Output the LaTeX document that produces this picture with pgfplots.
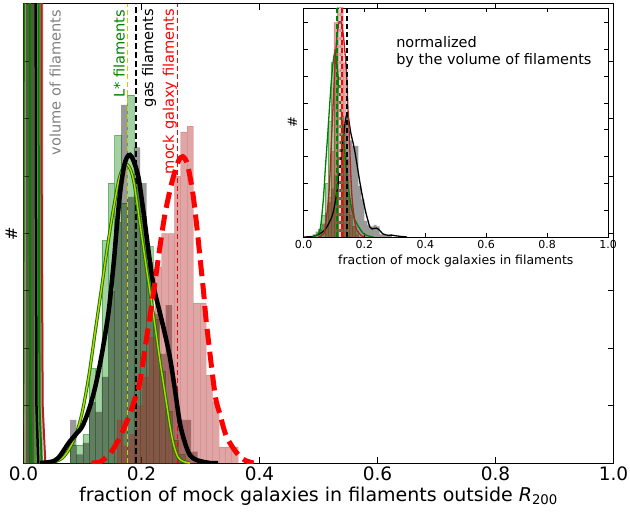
\documentclass[border=0pt]{standalone}
\usepackage{fontspec}
\setmainfont{DejaVu Sans}
\usepackage{pgfplots}
\pgfplotsset{compat=1.18}
\definecolor{mgreen}{rgb}{0,0.5,0}
\definecolor{mfire}{rgb}{0.70,0.13,0.13}
\definecolor{mgray}{rgb}{0.5,0.5,0.5}
\definecolor{myellow}{rgb}{0.80,0.80,0}
\pgfplotsset{
  hbar/.style={ybar, bar width=#1, bar shift=0pt},
  ghist/.style={hbar=#1, fill=mgreen, fill opacity=0.36, draw=mgreen, draw opacity=0.45, line width=0.6bp},
  khist/.style={hbar=#1, fill=black, fill opacity=0.40, draw=none},
  rhist/.style={hbar=#1, fill=mfire, fill opacity=0.40, draw=mfire, draw opacity=0.15, line width=0.5bp},
}
\begin{document}
\begin{tikzpicture}
\path[use as bounding box] (-23.5bp,-51bp) rectangle (606.5bp,463bp);
\begin{axis}[
  at={(0,0)}, anchor=south west,
  scale only axis, width=590bp, height=459bp,
  xmin=0, xmax=1, ymin=0, ymax=8,
  axis line style={line width=1bp},
  xtick={0,0.2,0.4,0.6,0.8,1.0},
  ytick={1,2,3,4,5,6,7}, yticklabels={},
  tick align=inside, major tick length=6bp,
  tick style={line width=1bp, black},
  xticklabel style={font=\fontsize{18.5bp}{20bp}\selectfont, /pgf/number format/.cd, fixed, fixed zerofill, precision=1, assume math mode=true},
  xlabel={fraction of mock galaxies in filaments outside \textit{R}\textsubscript{200}},
  every axis x label/.style={at={(axis description cs:0.5,0)}, yshift=-33bp, anchor=center, font=\fontsize{19bp}{21bp}\selectfont},
  ylabel={\#},
  every axis y label/.style={at={(axis description cs:0,0.5)}, xshift=-12bp, rotate=90, anchor=center, font=\fontsize{16bp}{18bp}\selectfont},
  clip=true,
]
% ---- volume of filaments (narrow spikes, off the top) ----
\addplot[rhist=0.011] coordinates {(0.0055,20) (0.0165,20) (0.0275,20)};
\addplot[ghist=0.010] coordinates {(0.005,20) (0.015,20) (0.0235,20)};
\addplot[khist=0.012] coordinates {(0.011,20)};
\addplot[mgreen, line width=2bp] coordinates {(-0.003,0) (-0.0005,1) (0.0003,5) (0.0006,9) (0.0105,9) (0.011,5) (0.0115,1) (0.014,0)};
\addplot[black, line width=2.5bp] coordinates {(0.001,9) (0.0205,9) (0.021,5) (0.022,1) (0.025,0)};
\addplot[mgreen, line width=2bp] coordinates {(0.001,9) (0.0255,9) (0.026,4) (0.027,1) (0.031,0)};
\addplot[mfire, line width=2bp] coordinates {(0.001,9) (0.0305,9) (0.031,4) (0.0325,1) (0.037,0)};
% ---- L* filaments histogram ----
\addplot[ghist=0.0108] coordinates {
(0.0844,0.31) (0.0952,0.31) (0.1060,0.50) (0.1168,1.65) (0.1276,1.65) (0.1384,3.88)
(0.1492,4.88) (0.1600,5.71) (0.1708,4.53) (0.1816,6.41) (0.1924,4.90) (0.2032,4.30)
(0.2140,3.77) (0.2248,2.50) (0.2356,1.60) (0.2464,0.90) (0.2572,0.40) (0.2680,0.15)};
% ---- gas filaments histogram ----
\addplot[khist=0.0108] coordinates {
(0.0844,0.75) (0.0952,0.15) (0.1060,0.35) (0.1168,1.06) (0.1276,0.89) (0.1384,1.50)
(0.1492,3.00) (0.1600,4.20) (0.1708,6.24) (0.1816,4.64) (0.1924,5.50) (0.2032,4.88)
(0.2140,3.50) (0.2248,2.60) (0.2356,1.90) (0.2464,2.75) (0.2572,1.30) (0.2680,0.75)
(0.2788,0.75) (0.2896,0.20)};
% ---- mock galaxy filaments histogram ----
\addplot[rhist=0.0108] coordinates {
(0.1638,0.75) (0.1746,0.30) (0.1854,0.50) (0.1962,1.00) (0.2070,1.50) (0.2178,2.20)
(0.2286,3.42) (0.2394,4.00) (0.2502,4.00) (0.2610,5.00) (0.2718,5.77) (0.2826,5.87)
(0.2934,2.79) (0.3042,2.79) (0.3150,1.53) (0.3258,1.07) (0.3366,0.28) (0.3474,0.28)
(0.3582,0.28)};
% ---- vertical dashed lines ----
\addplot[myellow, line width=1.5bp, dash pattern=on 5bp off 3bp] coordinates {(0.1766,0) (0.1766,8)};
\addplot[black, line width=1.8bp, dash pattern=on 6bp off 3bp] coordinates {(0.1907,0) (0.1907,8)};
\addplot[red, line width=1.3bp, dash pattern=on 5bp off 3bp] coordinates {(0.2607,0) (0.2607,8)};
% ---- KDE curves ----
\addplot[mgreen, line width=3.2bp, smooth] coordinates {
(0.040,0) (0.055,0.03) (0.065,0.08) (0.075,0.2) (0.0878,0.46) (0.0992,0.87) (0.1105,1.5)
(0.1217,2.3) (0.133,3.1) (0.142,3.75) (0.152,4.4) (0.162,4.95) (0.170,5.17) (0.176,5.2)
(0.182,5.1) (0.188,4.85) (0.197,4.2) (0.209,3.35) (0.22,2.6) (0.231,1.8) (0.237,1.4)
(0.243,1.0) (0.249,0.6) (0.255,0.3) (0.262,0.1) (0.27,0.03) (0.282,0)};
\addplot[myellow, line width=1.4bp, smooth] coordinates {
(0.040,0) (0.055,0.03) (0.065,0.08) (0.075,0.2) (0.0878,0.46) (0.0992,0.87) (0.1105,1.5)
(0.1217,2.3) (0.133,3.1) (0.142,3.75) (0.152,4.4) (0.162,4.95) (0.170,5.17) (0.176,5.2)
(0.182,5.1) (0.188,4.85) (0.197,4.2) (0.209,3.35) (0.22,2.6) (0.231,1.8) (0.237,1.4)
(0.243,1.0) (0.249,0.6) (0.255,0.3) (0.262,0.1) (0.27,0.03) (0.282,0)};
\addplot[black, line width=4.5bp, smooth] coordinates {
(0.028,0) (0.040,0.01) (0.050,0.03) (0.058,0.08) (0.065,0.17) (0.0766,0.35) (0.0878,0.49)
(0.0992,0.63) (0.1105,0.92) (0.1217,1.33) (0.133,1.91) (0.1444,2.65) (0.153,3.5) (0.158,4.1)
(0.1636,4.7) (0.170,5.15) (0.1755,5.33) (0.1805,5.37) (0.186,5.28) (0.1946,4.99) (0.203,4.4)
(0.2144,3.5) (0.222,3.0) (0.2258,2.84) (0.237,2.37) (0.248,1.85) (0.2568,1.27) (0.265,0.7)
(0.2737,0.35) (0.282,0.14) (0.2936,0.05) (0.316,0) (0.33,0)};
\addplot[red, line width=5bp, dash pattern=on 16bp off 7bp, smooth] coordinates {
(0.115,0) (0.13,0.02) (0.147,0.17) (0.164,0.46) (0.18,0.85) (0.19,1.15) (0.197,1.4)
(0.209,2.2) (0.22,2.95) (0.231,3.75) (0.24,4.35) (0.251,4.87) (0.262,5.25) (0.270,5.34)
(0.278,5.2) (0.287,4.7) (0.294,4.1) (0.299,3.6) (0.305,3.0) (0.3105,2.4) (0.3246,1.2)
(0.333,0.85) (0.344,0.46) (0.361,0.18) (0.375,0.05) (0.39,0)};
% ---- rotated labels ----
\node[rotate=90, anchor=east, inner sep=0pt, text=mgray, font=\fontsize{14.6bp}{16bp}\selectfont] at (axis cs:0.0535,7.9) {volume of filaments};
\node[rotate=90, anchor=east, inner sep=0pt, text=mgreen, font=\fontsize{14.6bp}{16bp}\selectfont] at (axis cs:0.162,7.9) {L* filaments};
\node[rotate=90, anchor=east, inner sep=0pt, text=black, font=\fontsize{14.6bp}{16bp}\selectfont] at (axis cs:0.213,7.92) {gas filaments};
\node[rotate=90, anchor=east, inner sep=0pt, text=red, font=\fontsize{14.6bp}{16bp}\selectfont] at (axis cs:0.248,7.92) {mock galaxy filaments};
\end{axis}

% ================= inset =================
\begin{axis}[
  at={(280bp,226bp)}, anchor=south west,
  scale only axis, width=304.5bp, height=229bp,
  xmin=0, xmax=1, ymin=0, ymax=8.54,
  axis background/.style={fill=white},
  axis line style={line width=0.8bp},
  xtick={0,0.2,0.4,0.6,0.8,1.0},
  ytick={1,2,3,4,5,6,7,8}, yticklabels={},
  tick align=inside, major tick length=4bp,
  tick style={line width=0.8bp, black},
  xticklabel style={font=\fontsize{11bp}{12bp}\selectfont, /pgf/number format/.cd, fixed, fixed zerofill, precision=1, assume math mode=true},
  xlabel={fraction of mock galaxies in filaments},
  every axis x label/.style={at={(axis description cs:0.5,0)}, yshift=-24bp, anchor=center, font=\fontsize{12.5bp}{14bp}\selectfont},
  ylabel={\#},
  every axis y label/.style={at={(axis description cs:0,0.5)}, xshift=-11bp, rotate=90, anchor=center, font=\fontsize{13bp}{15bp}\selectfont},
  clip=true,
]
\addplot[khist=0.01] coordinates {
(0.035,0.1) (0.045,0.2) (0.055,0.3) (0.065,0.5) (0.075,0.9) (0.085,1.3) (0.095,1.8) (0.105,2.3)
(0.115,3.0) (0.125,3.8) (0.135,4.2) (0.145,4.6) (0.155,3.6) (0.165,3.4) (0.175,3.4) (0.185,1.9)
(0.195,1.4) (0.205,0.6) (0.215,0.45) (0.225,0.4) (0.235,0.45) (0.245,0.4) (0.255,0.1) (0.265,0.1)
(0.275,0.05) (0.285,0.1)};
\addplot[ghist=0.01] coordinates {
(0.055,0.3) (0.065,0.8) (0.075,2.0) (0.085,4.3) (0.095,6.5) (0.105,7.0) (0.115,6.0) (0.125,4.5)
(0.135,3.0) (0.145,1.6) (0.155,0.8) (0.165,0.4) (0.175,0.2)};
\addplot[rhist=0.01] coordinates {
(0.075,0.5) (0.085,1.5) (0.095,3.2) (0.105,8.0) (0.115,9.5) (0.125,9.0) (0.135,6.5) (0.145,2.9)
(0.155,1.2) (0.165,0.4) (0.175,0.1)};
\addplot[black, line width=1.3bp, smooth] coordinates {
(0.0,0) (0.03,0.02) (0.05,0.1) (0.07,0.26) (0.085,0.55) (0.097,0.9) (0.11,1.7) (0.12,2.6)
(0.13,3.6) (0.137,4.3) (0.142,4.55) (0.148,4.4) (0.155,3.9) (0.163,3.5) (0.17,3.1) (0.18,2.4)
(0.188,1.85) (0.196,1.38) (0.205,0.9) (0.212,0.6) (0.218,0.37) (0.225,0.3) (0.232,0.32)
(0.24,0.33) (0.25,0.25) (0.26,0.12) (0.27,0.08) (0.28,0.06) (0.29,0.07) (0.3,0.05) (0.32,0.02) (0.34,0)};
\addplot[mgreen, line width=1.3bp, smooth] coordinates {
(0.03,0) (0.045,0.08) (0.055,0.3) (0.065,1.38) (0.072,2.6) (0.08,3.9) (0.09,5.6) (0.097,6.5)
(0.1026,6.85) (0.108,6.6) (0.115,5.8) (0.122,4.8) (0.13,3.9) (0.14,2.6) (0.153,1.38)
(0.165,0.75) (0.18,0.4) (0.195,0.15) (0.21,0.05) (0.23,0)};
\addplot[mfire, line width=1.3bp, smooth] coordinates {
(0.05,0) (0.062,0.08) (0.07,0.26) (0.082,1.4) (0.088,2.6) (0.093,3.9) (0.098,5.1) (0.103,6.3)
(0.11,7.5) (0.12,8.1) (0.13,7.6) (0.136,6.9) (0.142,6.0) (0.146,4.8) (0.15,3.9) (0.155,2.4)
(0.16,1.38) (0.168,0.6) (0.175,0.26) (0.19,0.05) (0.2,0)};
\addplot[mgreen, line width=2bp, dash pattern=on 5bp off 3bp] coordinates {(0.109,0) (0.109,8.54)};
\addplot[white!85!black, line width=2bp, dash pattern=on 5bp off 3bp] coordinates {(0.119,0) (0.119,8.54)};
\addplot[red, line width=2bp, dash pattern=on 5bp off 3bp] coordinates {(0.125,0) (0.125,8.54)};
\addplot[black, line width=2bp, dash pattern=on 5bp off 3bp] coordinates {(0.142,0) (0.142,8.54)};
\node[anchor=north west, align=left, inner sep=0pt, font=\fontsize{14.5bp}{17bp}\selectfont] at (axis cs:0.304,7.5) {normalized\\by the volume of filaments};
\end{axis}
\end{tikzpicture}
\end{document}
